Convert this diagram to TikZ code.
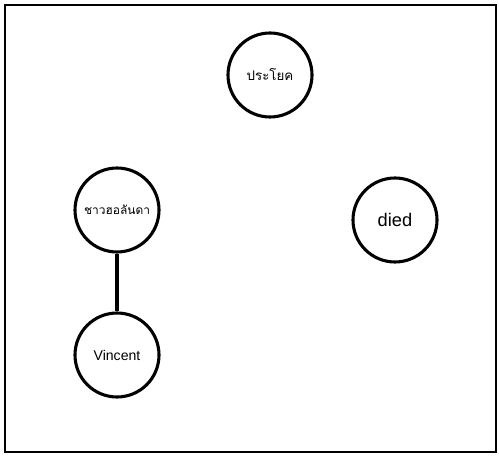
\documentclass[tikz,border=0pt]{standalone}
\usepackage{fontspec}
\setmainfont{Liberation Sans}
\newfontfamily\thaifont[Script=Thai]{Loma}

\begin{document}
\begin{tikzpicture}[
	word/.style={circle, draw, line width=2.2pt, minimum size=2.1cm, inner sep=0pt},
	link/.style={line width=2.2pt}]
	\useasboundingbox (0,0) rectangle (12.475,11.4);
	\draw[line width=1.6pt] (0.125,0.1) rectangle (12.4,11.275);
	\node[word, font=\thaifont\fontsize{9.5}{12}\selectfont] (sentence) at (6.75,9.525) {ประโยค};
	\node[word, font=\thaifont\fontsize{8.5}{11}\selectfont] (dutch) at (2.925,6.15) {ชาวฮอลันดา};
	\node[word, font=\fontsize{10}{12}\selectfont] (vincent) at (2.925,2.525) {Vincent};
	\node[word, font=\fontsize{13}{15}\selectfont] (died) at (9.875,5.9) {died};
	\draw[link] (dutch) -- (vincent);
\end{tikzpicture}
\end{document}
